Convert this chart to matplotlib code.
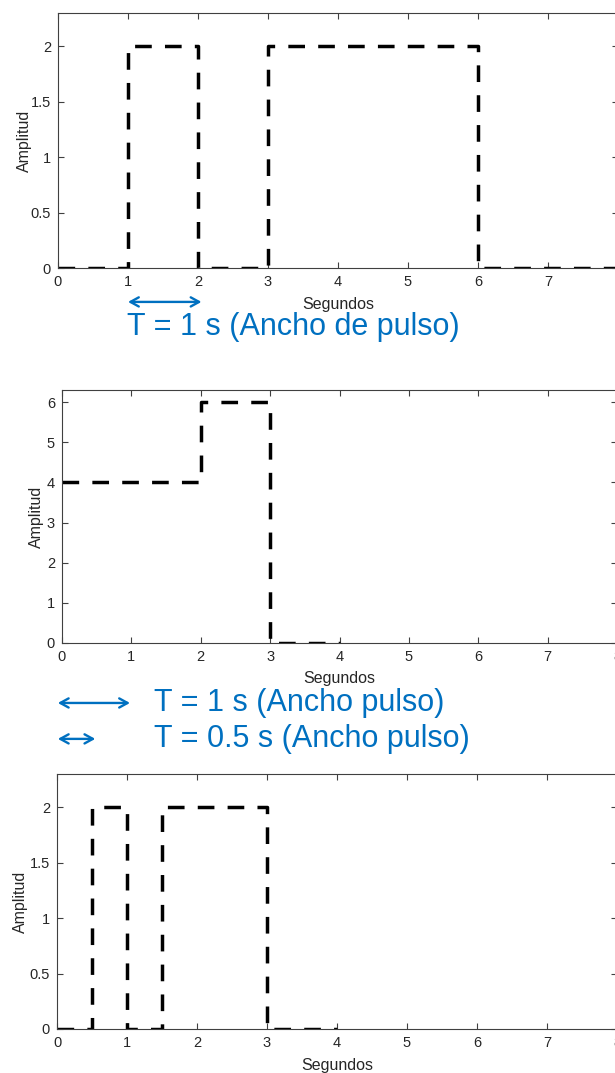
import matplotlib.pyplot as plt
from matplotlib.ticker import FormatStrFormatter

plt.rcParams['font.family'] = ['Liberation Sans', 'DejaVu Sans']
plt.rcParams['lines.scale_dashes'] = False

# pulse trains (time in seconds, amplitude)
t1 = [0, 1, 1, 2, 2, 3, 3, 6, 6, 8]
y1 = [0, 0, 2, 2, 0, 0, 2, 2, 0, 0]

t2 = [0, 2, 2, 3, 3, 4]
y2 = [4, 4, 6, 6, 0, 0]

t3 = [0, 0.5, 0.5, 1, 1, 1.5, 1.5, 3, 3, 4]
y3 = [0, 0, 2, 2, 0, 0, 2, 2, 0, 0]

xticks = [0, 1, 2, 3, 4, 5, 6, 7, 8]
yticks_a = [0, 0.5, 1, 1.5, 2]
yticks_b = [0, 1, 2, 3, 4, 5, 6]

blue = '#0070C0'
axcol = '#404040'

W, H = 615, 1073
fig = plt.figure(figsize=(W / 100, H / 100), dpi=100)


def make_ax(left, top, right, bottom):
    return fig.add_axes([left / W, 1 - bottom / H, (right - left) / W, (bottom - top) / H])


def style(ax, t, y, ylim, yticks, ylab_x):
    ax.plot(t, y, color='black', lw=2.5, dashes=(12, 9.5), solid_capstyle='butt',
            dash_capstyle='butt')
    ax.set_xlim(0, 8)
    ax.set_ylim(0, ylim)
    ax.set_xticks(xticks)
    ax.set_yticks(yticks)
    ax.yaxis.set_major_formatter(FormatStrFormatter('%g'))
    ax.tick_params(direction='in', top=True, right=True, length=4, width=0.8,
                   colors=axcol, labelsize=10.5, labelcolor='#262626', pad=5)
    for s in ax.spines.values():
        s.set_color(axcol)
        s.set_linewidth(0.8)
    ax.set_xlabel('Segundos', fontsize=11.5, color='#262626')
    ax.set_ylabel('Amplitud', fontsize=11.5, color='#262626')
    ax.xaxis.set_label_coords(0.5, -0.112)
    ax.yaxis.set_label_coords(ylab_x, 0.5)


def arrow(ax, x0, x1, yf):
    ax.annotate('', xy=(x1, yf), xytext=(x0, yf),
                xycoords=('data', 'axes fraction'),
                arrowprops=dict(arrowstyle='<->,head_length=0.6,head_width=0.33',
                                color=blue, lw=1.7, shrinkA=0, shrinkB=0),
                annotation_clip=False)


def label(ax, x, yf, s):
    ax.annotate(s, xy=(x, yf), xycoords=('data', 'axes fraction'), color=blue,
                fontsize=22, va='center', ha='left', annotation_clip=False)


ax1 = make_ax(58, 13, 618, 268)
style(ax1, t1, y1, 2.3, yticks_a, -0.047)
arrow(ax1, 1, 2.05, -0.133)
label(ax1, 0.98, -0.231, 'T = 1 s (Ancho de pulso)')

ax2 = make_ax(62, 390, 617, 643)
style(ax2, t2, y2, 6.3, yticks_b, -0.032)
arrow(ax2, -0.06, 0.98, -0.237)
label(ax2, 1.32, -0.237, 'T = 1 s (Ancho pulso)')
arrow(ax2, -0.06, 0.48, -0.379)
label(ax2, 1.32, -0.379, 'T = 0.5 s (Ancho pulso)')

ax3 = make_ax(57, 774, 617, 1029)
style(ax3, t3, y3, 2.3, yticks_a, -0.051)

fig.savefig('out.png', dpi=100)
